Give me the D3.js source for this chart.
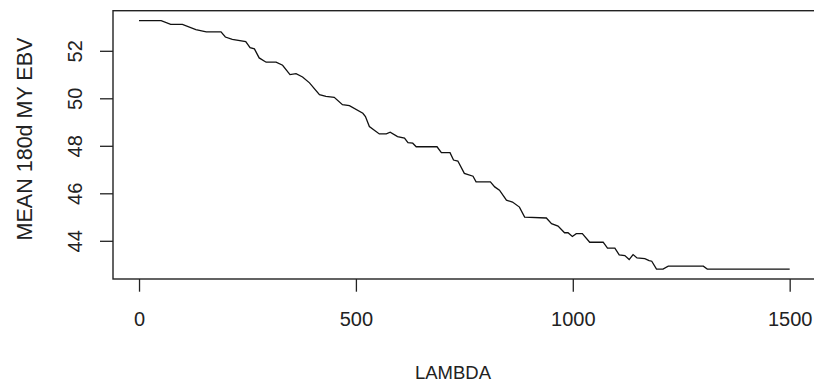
<!DOCTYPE html>
<html>
<head>
<meta charset="utf-8">
<script src="https://cdn.jsdelivr.net/npm/d3@7"></script>
<style>
  html, body { margin: 0; padding: 0; background: #fff; }
  svg { display: block; }
  .axis text { font-family: "Liberation Sans", Arial, sans-serif; fill: #222; }
</style>
</head>
<body>
<div id="chart"></div>
<script>
// lambda values and mean 180d MY EBV
const lambdaVals = [0, 51, 73, 100, 131, 155, 189, 199, 215, 246, 256, 266, 277, 293, 316, 331, 348, 362, 377, 393,
  416, 431, 450, 469, 485, 516, 522, 531, 554, 570, 579, 596, 612, 620, 631, 639, 687, 697, 717, 725,
  735, 750, 770, 777, 810, 820, 831, 847, 861, 877, 889, 939, 951, 966, 981, 989, 999, 1008, 1022, 1039,
  1070, 1080, 1097, 1107, 1120, 1130, 1139, 1148, 1166, 1176, 1182, 1193, 1208, 1220, 1301, 1310, 1500];
const meanEbv = [53.27, 53.27, 53.11, 53.11, 52.89, 52.80, 52.80, 52.58, 52.48, 52.39, 52.13, 52.08, 51.70, 51.52, 51.52, 51.39, 51.00, 51.04, 50.90, 50.65,
  50.15, 50.08, 50.04, 49.73, 49.69, 49.37, 49.23, 48.81, 48.50, 48.50, 48.57, 48.39, 48.32, 48.13, 48.11, 47.96, 47.96, 47.71, 47.71, 47.40,
  47.36, 46.84, 46.72, 46.48, 46.48, 46.27, 46.13, 45.71, 45.63, 45.42, 45.00, 44.96, 44.72, 44.62, 44.34, 44.34, 44.18, 44.30, 44.30, 43.94,
  43.94, 43.69, 43.69, 43.41, 43.38, 43.21, 43.42, 43.28, 43.25, 43.17, 43.14, 42.81, 42.81, 42.93, 42.93, 42.81, 42.81];
const xTicks = [0, 500, 1000, 1500];
const yTicks = [44, 46, 48, 50, 52];
const xTitle = "LAMBDA";
const yTitle = "MEAN 180d MY EBV";

const width = 814, height = 382;
const box = { left: 113, right: 815.7, top: 10.7, bottom: 279 };
const fontSize = 20;

const data = lambdaVals.map((l, i) => ({ lambda: l, ebv: meanEbv[i] }));

// R style 4% padding around the data range
const xExt = d3.extent(lambdaVals), yExt = d3.extent(meanEbv);
const xPad = (xExt[1] - xExt[0]) * 0.04, yPad = (yExt[1] - yExt[0]) * 0.04;

const x = d3.scaleLinear()
    .domain([xExt[0] - xPad, xExt[1] + xPad])
    .range([box.left, box.right]);
const y = d3.scaleLinear()
    .domain([yExt[0] - yPad, yExt[1] + yPad])
    .range([box.bottom, box.top]);

const svg = d3.select("#chart").append("svg")
    .attr("width", width)
    .attr("height", height);

// x axis
const gx = svg.append("g")
    .attr("class", "axis")
    .attr("transform", `translate(0,${box.bottom})`)
    .call(d3.axisBottom(x).tickValues(xTicks).tickSize(12.7).tickFormat(d3.format("d")));
gx.select(".domain").remove();
gx.selectAll(".tick line").attr("stroke", "#222").attr("stroke-width", 1.3);
gx.selectAll(".tick text")
    .attr("y", 46.5).attr("dy", 0)
    .style("font-size", fontSize + "px");

// y axis, labels parallel to the axis as in base R
const gy = svg.append("g")
    .attr("class", "axis")
    .attr("transform", `translate(${box.left},0)`)
    .call(d3.axisLeft(y).tickValues(yTicks).tickSize(13));
gy.select(".domain").remove();
gy.selectAll(".tick line").attr("stroke", "#222").attr("stroke-width", 1.3);
gy.selectAll(".tick text")
    .attr("x", null).attr("dy", null)
    .attr("text-anchor", "middle")
    .attr("transform", "translate(-31.5,0) rotate(-90)")
    .style("font-size", fontSize + "px");

// plot frame
svg.append("rect")
    .attr("x", box.left).attr("y", box.top)
    .attr("width", box.right - box.left).attr("height", box.bottom - box.top)
    .attr("fill", "none").attr("stroke", "#222").attr("stroke-width", 1.4);

// the series
const line = d3.line().x(d => x(d.lambda)).y(d => y(d.ebv));
svg.append("path")
    .datum(data)
    .attr("d", line)
    .attr("fill", "none")
    .attr("stroke", "#111")
    .attr("stroke-width", 1.3);

// titles
svg.append("text")
    .attr("x", 453).attr("y", 379)
    .attr("text-anchor", "middle")
    .style("font-family", "'Liberation Sans', Arial, sans-serif")
    .style("font-size", "18.5px").style("fill", "#222")
    .text(xTitle);

svg.append("text")
    .attr("transform", `translate(31.5,139) rotate(-90)`)
    .attr("text-anchor", "middle")
    .style("font-family", "'Liberation Sans', Arial, sans-serif")
    .style("font-size", "21.5px").style("fill", "#222")
    .text(yTitle);
</script>
</body>
</html>
